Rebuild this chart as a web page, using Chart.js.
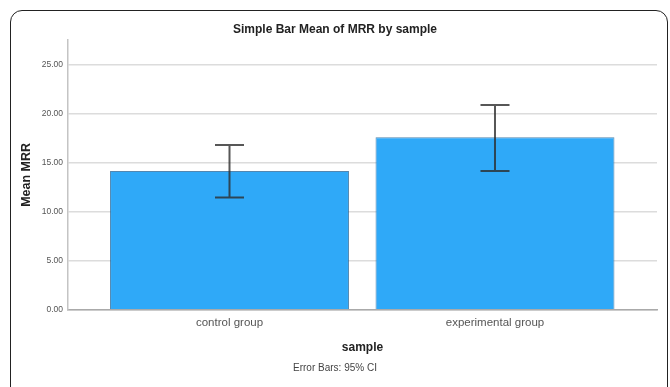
<!DOCTYPE html>
<html>
<head>
<meta charset="utf-8">
<script src="https://cdn.jsdelivr.net/npm/chart.js@4.4.1/dist/chart.umd.min.js"></script>
<style>
  html, body { margin: 0; padding: 0; background: #fff; overflow: hidden; }
  #wrap { position: relative; width: 670px; height: 387px; }
  #frame {
    position: absolute; left: 10px; top: 10px; width: 658px; height: 430px;
    box-sizing: border-box; border: 1.5px solid #222; border-radius: 12px;
  }
  #c { position: absolute; left: 0; top: 0; }
</style>
</head>
<body>
<div id="wrap">
  <div id="frame"></div>
  <canvas id="c" width="670" height="387"></canvas>
</div>
<script>
// values
const categories = ['control group', 'experimental group'];
const meanMRR = [14.18, 17.62];
const ciLow = [11.46, 14.18];
const ciHigh = [16.84, 20.92];
const yTicks = [0, 5, 10, 15, 20, 25];
const yMax = 27.55;

const FONT = "'Liberation Sans', Arial, sans-serif";

// draws the 95% CI whiskers on top of the bars
const errorBars = {
  id: 'errorBars',
  afterDatasetsDraw(chart) {
    const ctx = chart.ctx, xs = chart.scales.x, ys = chart.scales.y;
    ctx.save();
    ctx.strokeStyle = 'rgba(45,45,45,0.8)';
    ctx.lineWidth = 2;
    for (let i = 0; i < categories.length; i++) {
      const x = xs.getPixelForValue(i);
      const lo = ys.getPixelForValue(ciLow[i]);
      const hi = ys.getPixelForValue(ciHigh[i]);
      ctx.beginPath();
      ctx.moveTo(x, lo); ctx.lineTo(x, hi);
      ctx.moveTo(x - 14.5, hi); ctx.lineTo(x + 14.5, hi);
      ctx.moveTo(x - 14.5, lo); ctx.lineTo(x + 14.5, lo);
      ctx.stroke();
    }
    ctx.restore();
  }
};

new Chart(document.getElementById('c'), {
  type: 'bar',
  data: {
    datasets: [{
      data: meanMRR.map((v, i) => ({x: i, y: v})),
      backgroundColor: '#2fa9f8',
      borderColor: 'rgba(25,95,150,0.75)',
      borderWidth: 1,
      borderSkipped: 'bottom',
      categoryPercentage: 1,
      barPercentage: 0.9
    }]
  },
  options: {
    responsive: false,
    animation: false,
    devicePixelRatio: 1,
    layout: { padding: { left: 13, right: 13, top: 0, bottom: 0 } },
    plugins: {
      legend: { display: false },
      tooltip: { enabled: false },
      title: {
        display: true,
        text: 'Simple Bar Mean of MRR by sample',
        color: '#222',
        font: { family: FONT, size: 12, weight: 'bold' },
        padding: { top: 22.8, bottom: 2.8 }
      },
      subtitle: {
        display: true,
        position: 'bottom',
        text: 'Error Bars: 95% CI',
        color: '#444',
        font: { family: FONT, size: 10 },
        padding: { top: 7, bottom: 13 }
      }
    },
    scales: {
      x: {
        type: 'linear',
        offset: false,
        min: -0.6083,
        max: 1.6102,
        afterBuildTicks: (s) => { s.ticks = categories.map((c, i) => ({value: i})); },
        afterFit: (s) => { s.height = 45.2; },
        grid: { display: false, drawTicks: false, offset: false },
        border: { display: true, color: '#aaa', width: 1.5 },
        ticks: {
          padding: 6,
          color: '#555',
          font: { family: FONT, size: 11.5 },
          callback: (v) => categories[v] ?? ''
        },
        title: {
          display: true,
          text: 'sample',
          color: '#222',
          font: { family: FONT, size: 12, weight: 'bold' },
          padding: { top: 0, bottom: 0 }
        }
      },
      y: {
        min: 0,
        max: yMax,
        afterBuildTicks: (s) => { s.ticks = yTicks.map(v => ({value: v})); },
        afterFit: (s) => { s.width = 55; },
        grid: { color: '#dcdcdc', lineWidth: 1.5, drawTicks: false },
        border: { display: true, color: '#c4c4c4', width: 1.5 },
        ticks: {
          padding: 5,
          color: '#555',
          font: { family: FONT, size: 8.5 },
          callback: (v) => Number(v).toFixed(2)
        },
        title: {
          display: true,
          text: 'Mean MRR',
          color: '#222',
          font: { family: FONT, size: 12.5, weight: 'bold' },
          padding: { top: 6.5, bottom: 0 }
        }
      }
    }
  },
  plugins: [errorBars]
});
</script>
</body>
</html>
